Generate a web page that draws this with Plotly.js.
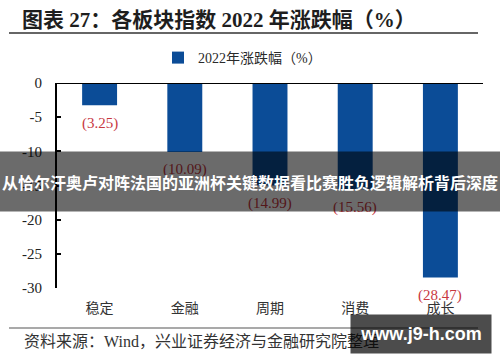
<!DOCTYPE html>
<html>
<head>
<meta charset="utf-8">
<script src="https://cdn.plot.ly/plotly-3.0.1.min.js"></script>
<style>
  html, body { margin: 0; padding: 0; background: #ffffff; }
  #chart { width: 500px; height: 362px; }
</style>
</head>
<body>
<div id="chart"></div>
<script>
// ---- data ----
const categories = ['稳定', '金融', '周期', '消费', '成长'];
const changes2022 = [-3.25, -10.09, -14.99, -15.56, -28.47];
const seriesName = '2022年涨跌幅（%）';
const yTickValues = [0, -5, -10, -15, -20, -25, -30];
const yTickLabels = ['0', '-5', '-10', '-15', '-20', '-25', '-30'];
const chartTitle = '图表 27：各板块指数 2022 年涨跌幅（%）';
const sourceText = '资料来源：Wind，兴业证券经济与金融研究院整理';
const bannerText = '从恰尔汗奥卢对阵法国的亚洲杯关键数据看比赛胜负逻辑解析背后深度';
const watermarkText = 'www.j9-h.com';

// ---- layout geometry (pixels) ----
const W = 500, H = 362;
const M = { l: 57, r: 17, t: 83, b: 74 };
const PW = W - M.l - M.r, PH = H - M.t - M.b;
const px = x => (x - M.l) / PW;          // pixel x -> paper x
const py = y => (H - M.b - y) / PH;      // pixel y -> paper y

const serif = 'Liberation Serif, "Noto Sans CJK SC", serif';
const cjk = '"Noto Sans CJK SC", sans-serif';
const labelRed = '#c8383f';

const trace = {
  type: 'bar',
  x: categories,
  y: changes2022,
  name: seriesName,
  width: 0.41,
  marker: { color: '#0b4c97' },
  hoverinfo: 'x+y'
};

const valueLabels = categories.map((c, i) => ({
  x: c, y: changes2022[i], xref: 'x', yref: 'y',
  text: '(' + Math.abs(changes2022[i]).toFixed(2) + ')',
  showarrow: false, yshift: -18,
  font: { family: serif, size: 15, color: labelRed }
}));

const layout = {
  width: W, height: H,
  margin: M,
  paper_bgcolor: '#ffffff', plot_bgcolor: '#ffffff',
  title: {
    text: '<b>' + chartTitle + '</b>',
    x: 22 / W, xanchor: 'left', xref: 'container',
    y: 1 - 20 / H, yanchor: 'middle', yref: 'container',
    font: { family: serif, size: 21, color: '#1e1e1e' }
  },
  showlegend: true,
  legend: {
    orientation: 'h',
    x: px(158), xanchor: 'left',
    y: py(58), yanchor: 'middle',
    itemwidth: 30,
    font: { family: serif, size: 14, color: '#2a2a2a' },
    bgcolor: 'rgba(0,0,0,0)'
  },
  xaxis: {
    type: 'category',
    range: [-0.5, 4.5],
    showline: false, showgrid: false, zeroline: false,
    ticks: '', ticklabelstandoff: 10,
    tickfont: { family: cjk, size: 14, color: '#333333' },
    fixedrange: true
  },
  yaxis: {
    range: [-30, 0],
    tickvals: yTickValues, ticktext: yTickLabels,
    showline: true, linecolor: '#000000', linewidth: 2,
    ticks: 'inside', ticklen: 4, tickwidth: 2, tickcolor: '#000000',
    ticklabelstandoff: 10,
    showgrid: false, zeroline: false,
    tickfont: { family: serif, size: 15, color: '#222222' },
    fixedrange: true
  },
  shapes: [
    // category axis line at y = 0 (top of plot)
    { type: 'line', xref: 'paper', yref: 'y', x0: 0, x1: 1, y0: 0, y1: 0,
      line: { color: '#000000', width: 2 } },
    // title underline
    { type: 'line', xref: 'paper', yref: 'paper', x0: px(9), x1: px(478), y0: py(33), y1: py(33),
      line: { color: '#333333', width: 1.5 } },
    // source rule
    { type: 'line', xref: 'paper', yref: 'paper', x0: px(9), x1: px(478), y0: py(328), y1: py(328),
      line: { color: '#555555', width: 1.2 } }
  ],
  annotations: valueLabels.concat([
    { xref: 'paper', yref: 'paper', x: px(22), y: py(341), xanchor: 'left', yanchor: 'middle',
      text: sourceText, showarrow: false,
      font: { family: serif, size: 16, color: '#333333' } },
    { xref: 'paper', yref: 'paper', x: px(250), y: py(181.5), xanchor: 'center', yanchor: 'middle',
      text: '<b>' + bannerText + '</b>', showarrow: false,
      width: 498, height: 57, borderpad: 1,
      bgcolor: 'rgba(0,0,0,0.58)',
      font: { family: cjk, size: 16, color: '#ffffff' } },
    { xref: 'paper', yref: 'paper', x: px(421), y: py(334), xanchor: 'center', yanchor: 'middle',
      text: '<b>' + watermarkText + '</b>', showarrow: false,
      width: 138, height: 36, borderpad: 1,
      bgcolor: 'rgba(0,0,0,0.7)',
      font: { family: 'Liberation Sans, Arial, sans-serif', size: 18, color: '#ffffff' } }
  ])
};

Plotly.newPlot('chart', [trace], layout, { staticPlot: true, displayModeBar: false });
</script>
</body>
</html>
